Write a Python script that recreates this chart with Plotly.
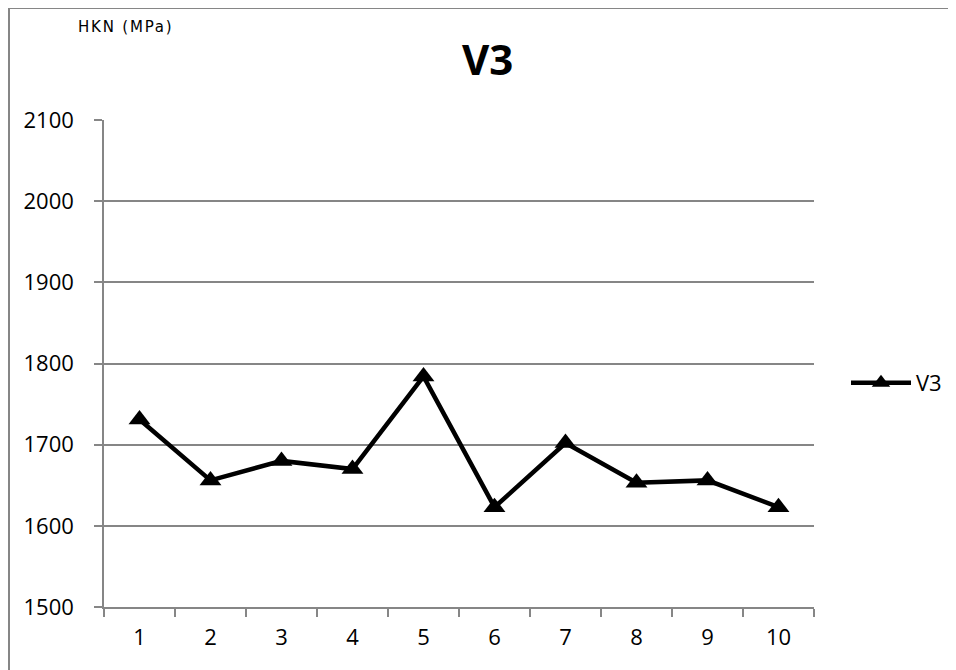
import plotly.graph_objects as go

categories = ["1", "2", "3", "4", "5", "6", "7", "8", "9", "10"]
v3_values = [1731, 1656, 1680, 1670, 1784, 1623, 1702, 1653, 1656, 1623]
y_ticks = [1500, 1600, 1700, 1800, 1900, 2000, 2100]
series_name = "V3"
chart_title = "V3"
y_label = "HKN (MPa)"

GRAY = "#868686"
FONT = "Open Sans"

fig = go.Figure()
fig.add_trace(go.Scatter(
    x=categories, y=v3_values, name=series_name,
    mode="lines+markers",
    line=dict(color="black", width=4.5),
    marker=dict(symbol="triangle-up", size=19, color="black"),
))

OFF = 8  # body margin of the page
W, H = 956 - OFF, 670 - OFF
L = 104 - OFF
T = 120 - OFF
R = W - (814 - OFF)
B = H - (607 - OFF)
pw, ph = W - L - R, H - T - B

def px_x(x):
    return (x - OFF - L) / pw

def px_y(y):
    return 1 - (y - OFF - T) / ph

fig.update_layout(
    width=W, height=H,
    margin=dict(l=L, r=R, t=T, b=B, autoexpand=False),
    paper_bgcolor="white", plot_bgcolor="white",
    font=dict(family=FONT, color="black", size=22),
    showlegend=True,
    legend=dict(x=px_x(846), y=px_y(383), xanchor="left", yanchor="middle",
                itemwidth=60,
                font=dict(size=22, family=FONT), bgcolor="rgba(0,0,0,0)"),
    xaxis=dict(type="category", range=[-0.5, 9.5], showgrid=False,
               showline=True, linecolor=GRAY, linewidth=1.5,
               ticks="outside", tickson="boundaries", ticklen=8, tickcolor=GRAY,
               tickwidth=1.5, tickfont=dict(size=22, family=FONT),
               ticklabelstandoff=10, fixedrange=True, automargin=False),
    yaxis=dict(range=[1500, 2100], tickvals=y_ticks, showgrid=True,
               gridcolor=GRAY, gridwidth=1.5, showline=True, linecolor=GRAY,
               linewidth=1.5, ticks="outside", ticklen=8, tickcolor=GRAY,
               tickwidth=1.5, zeroline=False,
               tickfont=dict(size=22, family=FONT), ticklabelstandoff=16,
               fixedrange=True, automargin=False),
)

fig.add_annotation(text="<b>" + chart_title + "</b>", xref="paper", yref="paper",
                   x=px_x(487.5), y=px_y(58.5), xanchor="center", yanchor="middle",
                   showarrow=False, font=dict(size=42, family=FONT, color="black"))
fig.add_annotation(text='<span style="letter-spacing:1.8px">' + y_label + "</span>",
                   xref="paper", yref="paper",
                   x=px_x(76), y=px_y(26.5), xanchor="left", yanchor="middle",
                   showarrow=False, font=dict(size=15, family="DejaVu Sans", color="black"))

# chart-area border (only top and left edges are visible in the crop)
fig.add_shape(type="line", xref="paper", yref="paper",
              x0=px_x(9), x1=px_x(1000), y0=px_y(8), y1=px_y(8),
              line=dict(color=GRAY, width=2), layer="below")
fig.add_shape(type="line", xref="paper", yref="paper",
              x0=px_x(9), x1=px_x(9), y0=px_y(8), y1=px_y(720),
              line=dict(color=GRAY, width=2), layer="below")

fig.write_html("out.html", config={"displayModeBar": False},
               post_script="document.body.style.overflow='hidden';")
